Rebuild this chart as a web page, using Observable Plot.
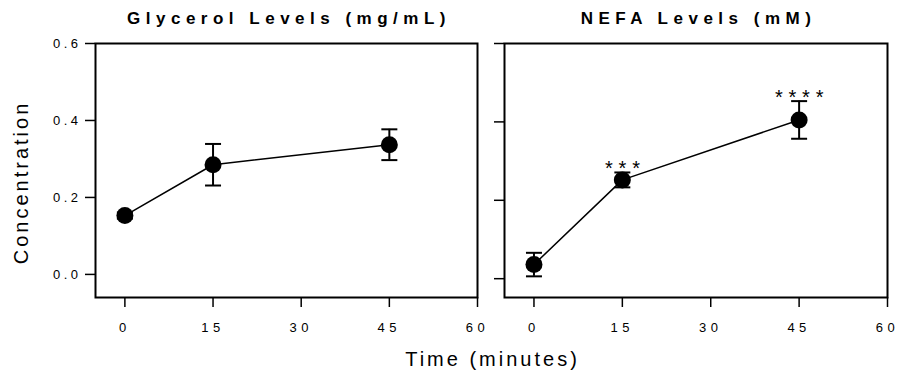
<!DOCTYPE html>
<html>
<head>
<meta charset="utf-8">
<script src="https://cdn.jsdelivr.net/npm/d3@7"></script>
<script src="https://cdn.jsdelivr.net/npm/@observablehq/plot@0.6"></script>
<style>
  html, body { margin: 0; padding: 0; background: white; }
  #wrap { position: relative; width: 899px; height: 373px; overflow: hidden; }
  #wrap svg { position: absolute; left: 0; top: 0; }
</style>
</head>
<body>
<div id="wrap"></div>
<script>
// ---- data ----
const timePoints = [0, 15, 45];
const glycerolMean = [0.153, 0.285, 0.337];
const glycerolSem = [0.008, 0.054, 0.040];
const nefaMean = [0.036, 0.252, 0.405];
const nefaSem = [0.030, 0.019, 0.048];
const nefaStars = ["", "***", "****"];
const xTicks = [0, 15, 30, 45, 60];
const yTicks = [0, 0.2, 0.4, 0.6];
const titleGlycerol = "Glycerol Levels (mg/mL)";
const titleNefa = "NEFA Levels (mM)";
const yLabel = "Concentration";
const xLabel = "Time (minutes)";

const glycerol = timePoints.map((t, i) => ({time: t, mean: glycerolMean[i], sem: glycerolSem[i]}));
const nefa = timePoints.map((t, i) => ({time: t, mean: nefaMean[i], sem: nefaSem[i], stars: nefaStars[i]}));

const font = "Liberation Sans, Arial, Helvetica, sans-serif";
const cap = {draw(context) { context.moveTo(-8, 0); context.lineTo(8, 0); }};

function panelMarks(data, title, labels) {
  return [
    Plot.frame({stroke: "black", strokeWidth: 2}),
    Plot.axisX({ticks: xTicks, tickSize: 10, tickPadding: 15, fontSize: 13, strokeWidth: 1.5, label: null}),
    Plot.axisY({ticks: yTicks, tickSize: 10, tickPadding: 4, fontSize: 13, strokeWidth: 1.5, label: null,
      tickFormat: labels ? d3.format(".1f") : () => ""}),
    Plot.ruleX(data, {x: "time", y1: d => d.mean - d.sem, y2: d => d.mean + d.sem, stroke: "black", strokeWidth: 2}),
    Plot.dot(data, {x: "time", y: d => d.mean - d.sem, symbol: cap, r: 8, stroke: "black", strokeWidth: 2, fill: "none"}),
    Plot.dot(data, {x: "time", y: d => d.mean + d.sem, symbol: cap, r: 8, stroke: "black", strokeWidth: 2, fill: "none"}),
    Plot.line(data, {x: "time", y: "mean", stroke: "black", strokeWidth: 1.5}),
    Plot.dot(data, {x: "time", y: "mean", r: 8.5, fill: "black", stroke: "none"}),
    Plot.text([title], {frameAnchor: "top", lineAnchor: "top", textAnchor: "middle", dy: -32, dx: 2.5, fontSize: 17, fontWeight: "bold", fill: "black"})
  ];
}

const style = {background: "transparent", overflow: "visible", fontFamily: font, color: "black"};

const left = Plot.plot({
  width: 899, height: 373,
  marginTop: 43, marginBottom: 76, marginLeft: 95, marginRight: 422,
  style,
  x: {domain: [-5, 60]},
  y: {domain: [-0.06, 0.6]},
  marks: [
    ...panelMarks(glycerol, titleGlycerol, true),
    Plot.text([yLabel], {frameAnchor: "left", textAnchor: "middle", rotate: -90, dx: -74, dy: 12, fontSize: 20, fill: "black"}),
    Plot.text([xLabel], {frameAnchor: "bottom", lineAnchor: "top", textAnchor: "middle", dx: 206, dy: 54, fontSize: 20, fill: "black"})
  ]
});

const right = Plot.plot({
  width: 899, height: 373,
  marginTop: 43, marginBottom: 76, marginLeft: 504, marginRight: 12,
  style,
  x: {domain: [-5, 60]},
  y: {domain: [-0.048, 0.6]},
  marks: [
    ...panelMarks(nefa, titleNefa, false),
    Plot.text(nefa, {x: "time", y: d => d.mean + d.sem, text: "stars", dy: -4, dx: 3, fontSize: 20, fill: "black"})
  ]
});

const wrap = document.getElementById("wrap");
wrap.appendChild(left);
wrap.appendChild(right);

const spacing = {};
spacing[titleGlycerol] = "5.5px";
spacing[titleNefa] = "5.5px";
spacing[yLabel] = "3px";
spacing[xLabel] = "3px";
for (const s of nefaStars) if (s) spacing[s] = "5.8px";

for (const svg of [left, right]) {
  d3.select(svg).selectAll('g[aria-label="x-axis tick label"]').style("font-size", "13px")
    .selectAll("text").style("letter-spacing", "4.5px");
  d3.select(svg).selectAll('g[aria-label="y-axis tick label"]').style("font-size", "13px")
    .selectAll("text").style("letter-spacing", "3.5px");
  d3.select(svg).selectAll('g[aria-label="text"] text').each(function() {
    const sp = spacing[this.textContent];
    if (sp) this.style.letterSpacing = sp;
  });
}
</script>
</body>
</html>
